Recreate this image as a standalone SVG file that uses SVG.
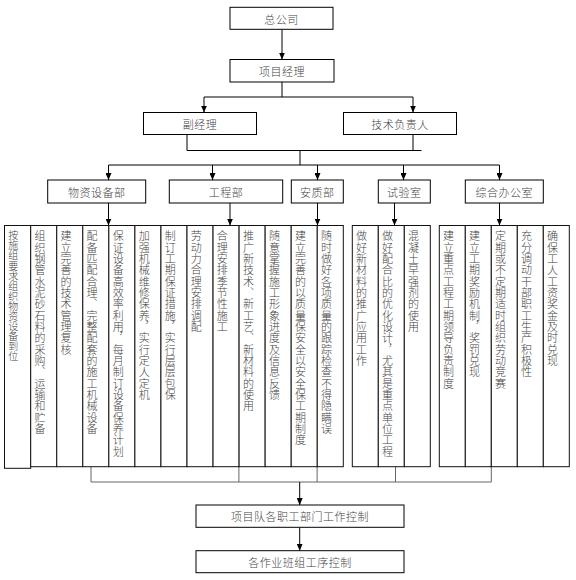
<svg xmlns="http://www.w3.org/2000/svg" width="576" height="580" viewBox="0 0 576 580">
<defs>
<marker id="arr" markerUnits="userSpaceOnUse" markerWidth="7" markerHeight="6" refX="7" refY="3" orient="auto">
<path d="M0,0 L7,3 L0,6 z" fill="#000"/>
</marker>
<style>
.box{fill:#fff;stroke:#000;stroke-width:1}
.col{fill:#fff;stroke:#111;stroke-width:1}
.lbl{font-family:"Noto Sans CJK SC",sans-serif;font-size:11px;font-weight:300;letter-spacing:0.5px;fill:#444;text-anchor:middle;dominant-baseline:central}
.vt{font-family:"Noto Sans CJK SC",sans-serif;font-size:11px;font-weight:300;letter-spacing:0.35px;fill:#444;writing-mode:vertical-rl}
.vs{font-size:10px;letter-spacing:0.1px}
.ln{fill:none;stroke:#000;stroke-width:1}
.lg{fill:none;stroke:#666;stroke-width:1}
.ar{marker-end:url(#arr)}
</style>
</defs>
<rect width="576" height="580" fill="#fff"/>
<g id="connectors">
<path class="ln ar" d="M282,29.5 V59.5"/>
<path class="ln" d="M282,82 V97 M204,97 H413"/>
<path class="ln ar" d="M204,97 V112.5"/>
<path class="ln ar" d="M413,97 V112.5"/>
<path class="ln" d="M187,134.5 V150.5 M413,134.5 V150.5 M187,150.5 H421.5 M300,150.5 V165 M108.5,165 H499.5"/>
<path class="ln ar" d="M108.5,165 V180"/>
<path class="ln ar" d="M212.5,165 V180"/>
<path class="ln ar" d="M317.5,165 V180"/>
<path class="ln ar" d="M403.5,165 V180"/>
<path class="ln ar" d="M499.5,165 V180"/>
<path class="ln ar" d="M108.5,203 V225.5"/>
<path class="ln ar" d="M230,203 V225.5"/>
<path class="ln ar" d="M317.5,203 V225.5"/>
<path class="ln ar" d="M394.5,203 V225.5"/>
<path class="ln ar" d="M499.5,203 V225.5"/>
<path class="lg" d="M91,466.7 V482 M238.9,466.7 V482 M317.1,466.7 V482 M395.5,466.7 V482 M491.3,466.7 V482 M91,482 H491.3"/>
<path class="ln ar" d="M299.7,482 V505"/>
<path class="ln ar" d="M299.7,527.3 V550.7"/>
</g>
<g id="n-zgs"><rect class="box" x="230" y="7.3" width="103" height="22"/><text class="lbl" x="281.5" y="18.5">总公司</text></g>
<g id="n-xmjl"><rect class="box" x="230" y="59.5" width="104" height="22.5"/><text class="lbl" x="282" y="71">项目经理</text></g>
<g id="n-fjl"><rect class="box" x="143.5" y="112.5" width="113" height="22"/><text class="lbl" x="200" y="123.5">副经理</text></g>
<g id="n-jsfzr"><rect class="box" x="343.5" y="112.5" width="113" height="22"/><text class="lbl" x="400" y="123.5">技术负责人</text></g>
<g id="n-wzsbb"><rect class="box" x="47.7" y="180" width="98" height="23"/><text class="lbl" x="96.7" y="191.5">物资设备部</text></g>
<g id="n-gcb"><rect class="box" x="169.3" y="180" width="113.4" height="23"/><text class="lbl" x="226" y="191.5">工程部</text></g>
<g id="n-azb"><rect class="box" x="291.3" y="180" width="52" height="23"/><text class="lbl" x="317.3" y="191.5">安质部</text></g>
<g id="n-sys"><rect class="box" x="378.3" y="180" width="52" height="23"/><text class="lbl" x="404.3" y="191.5">试验室</text></g>
<g id="n-zhbgs"><rect class="box" x="465.3" y="180" width="78" height="23"/><text class="lbl" x="504.3" y="191.5">综合办公室</text></g>

<g id="c1"><rect class="col" x="4.5" y="225.5" width="26.2" height="242.8"/><text class="vt vs" x="13.3" y="230.5">按施组要求组织物资设备到位</text></g>
<g id="c2"><rect class="col" x="30.7" y="225.5" width="26.05" height="241.2"/><text class="vt" x="40" y="230.5">组织钢管水泥砂石料的采购、运输和贮备</text></g>
<g id="c3"><rect class="col" x="56.75" y="225.5" width="26.05" height="241.2"/><text class="vt" x="66.05" y="230.5">建立完善的技术管理复核</text></g>
<g id="c4"><rect class="col" x="82.8" y="225.5" width="26.05" height="241.2"/><text class="vt" x="92.1" y="230.5">配备匹配合理、完整配套的施工机械设备</text></g>
<g id="c5"><rect class="col" x="108.85" y="225.5" width="26.05" height="241.2"/><text class="vt" x="118.15" y="230.5">保证设备高效率利用，每月制订设备保养计划</text></g>
<g id="c6"><rect class="col" x="134.9" y="225.5" width="26.05" height="241.2"/><text class="vt" x="144.2" y="230.5">加强机械维修保养，实行定人定机</text></g>
<g id="c7"><rect class="col" x="160.95" y="225.5" width="26.05" height="241.2"/><text class="vt" x="170.25" y="230.5">制订工期保证措施，实行层层包保</text></g>
<g id="c8"><rect class="col" x="187" y="225.5" width="26.05" height="241.2"/><text class="vt" x="196.3" y="230.5">劳动力合理安排调配</text></g>
<g id="c9"><rect class="col" x="213.05" y="225.5" width="26.05" height="241.2"/><text class="vt" x="222.35" y="230.5">合理安排季节性施工</text></g>
<g id="c10"><rect class="col" x="239.1" y="225.5" width="26.05" height="241.2"/><text class="vt" x="248.4" y="230.5">推广新技术、新工艺、新材料的使用</text></g>
<g id="c11"><rect class="col" x="265.15" y="225.5" width="26.05" height="241.2"/><text class="vt" x="274.45" y="230.5">随意掌握施工形象进度及信息反馈</text></g>
<g id="c12"><rect class="col" x="291.2" y="225.5" width="26.05" height="241.2"/><text class="vt" x="300.5" y="230.5">建立完善的以质量保安全以安全保工期制度</text></g>
<g id="c13"><rect class="col" x="317.25" y="225.5" width="26.05" height="241.2"/><text class="vt" x="326.55" y="230.5">随时做好各项质量的跟踪检查不得隐瞒误</text></g>

<g id="c14"><rect class="col" x="352.3" y="225.5" width="26" height="241.2"/><text class="vt" x="361.6" y="230.5">做好新材料的推广应用工作</text></g>
<g id="c15"><rect class="col" x="378.3" y="225.5" width="26" height="241.2"/><text class="vt" x="387.6" y="230.5">做好配合比的优化设计，尤其是重点单位工程</text></g>
<g id="c16"><rect class="col" x="404.3" y="225.5" width="26" height="241.2"/><text class="vt" x="413.6" y="230.5">混凝土早强剂的使用</text></g>

<g id="c17"><rect class="col" x="439.3" y="225.5" width="26" height="241.2"/><text class="vt" x="448.6" y="230.5">建立重点工程工期领导负责制度</text></g>
<g id="c18"><rect class="col" x="465.3" y="225.5" width="26" height="241.2"/><text class="vt" x="474.6" y="230.5">建立工期奖励机制，奖罚兑现</text></g>
<g id="c19"><rect class="col" x="491.3" y="225.5" width="26" height="241.2"/><text class="vt" x="500.6" y="230.5">定期或不定期适时组织劳动竞赛</text></g>
<g id="c20"><rect class="col" x="517.3" y="225.5" width="26" height="241.2"/><text class="vt" x="526.6" y="230.5">充分调动干部职工生产积极性</text></g>
<g id="c21"><rect class="col" x="543.3" y="225.5" width="26" height="241.2"/><text class="vt" x="552.6" y="230.5">确保工人工资奖金及时兑现</text></g>

<g id="n-xmd"><rect class="box" x="196" y="505" width="208" height="22.3"/><text class="lbl" x="300" y="516.3">项目队各职工部门工作控制</text></g>
<g id="n-zyb"><rect class="box" x="196" y="550.7" width="208" height="22"/><text class="lbl" x="300" y="561.7">各作业班组工序控制</text></g>
</svg>
